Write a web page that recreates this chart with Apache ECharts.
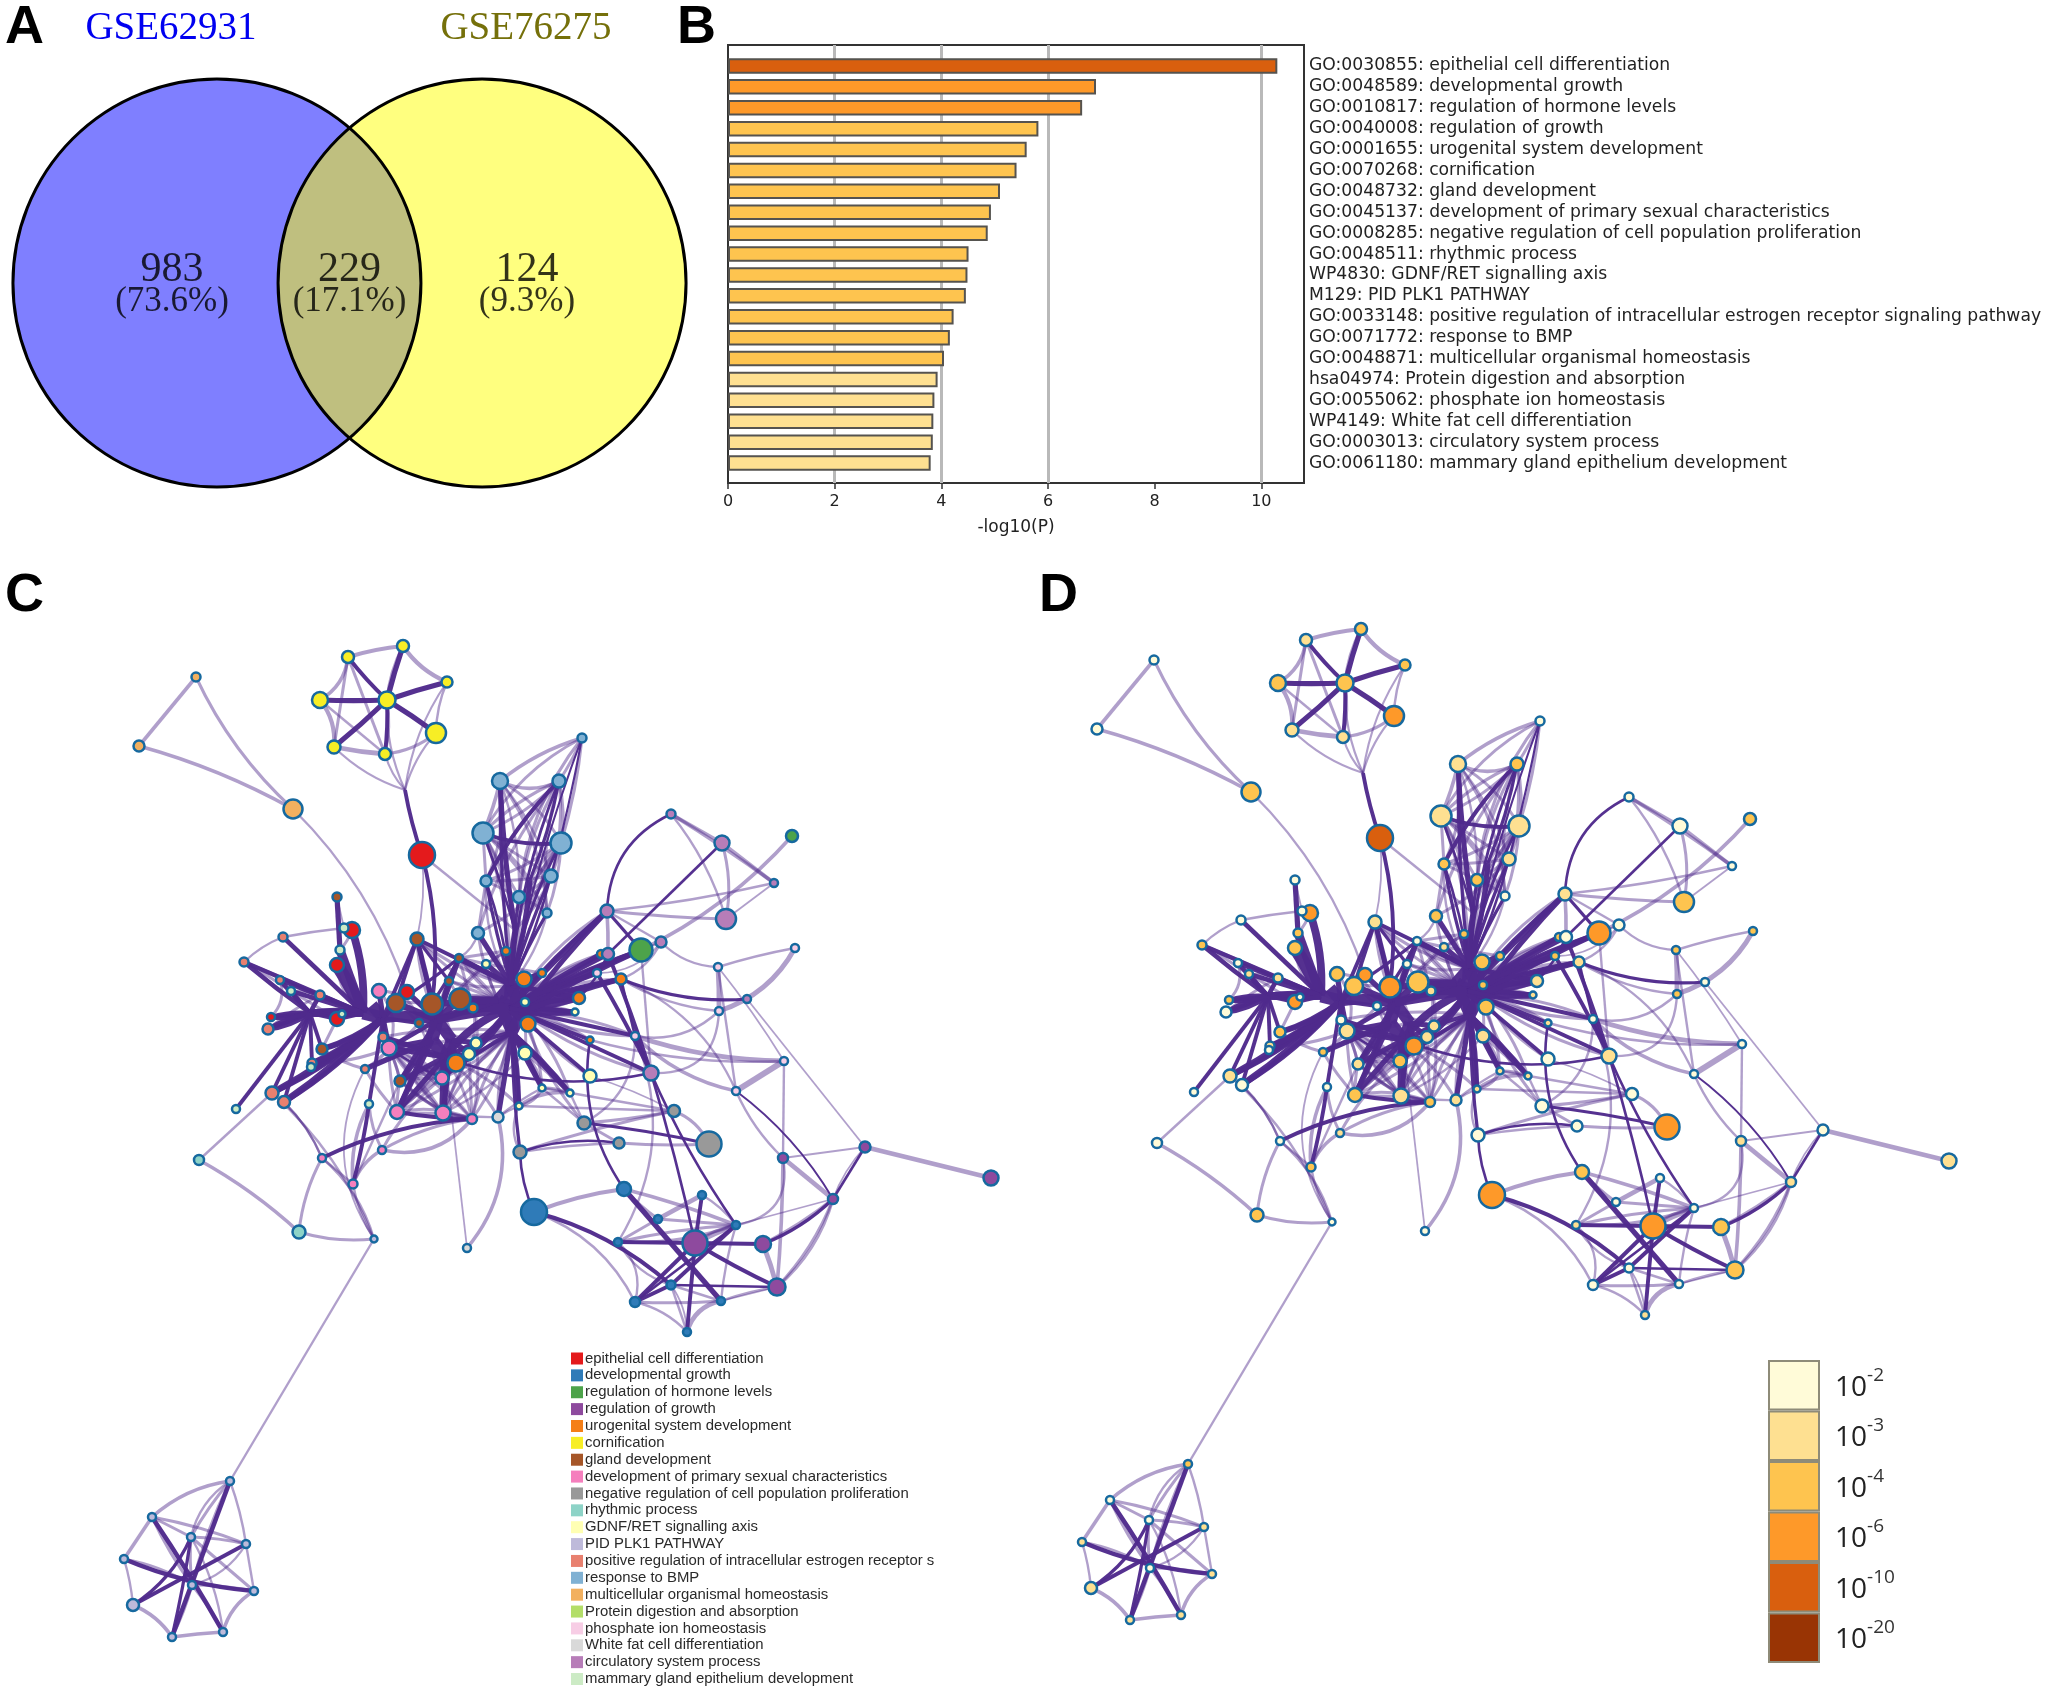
<!DOCTYPE html>
<html><head><meta charset="utf-8">
<style>html,body{margin:0;padding:0;background:#fff}#c{width:2050px;height:1693px}</style>
<script src="https://cdn.jsdelivr.net/npm/echarts@6/dist/echarts.min.js"></script>
</head><body><div id="c"></div>
<script>
// ---------- Panel A ----------
const vennSets = ['GSE62931', 'GSE76275'];
const vennCounts = ['983', '229', '124'];
const vennShares = ['(73.6%)', '(17.1%)', '(9.3%)'];
// ---------- Panel B ----------
const enrichTerms = ['GO:0030855: epithelial cell differentiation','GO:0048589: developmental growth','GO:0010817: regulation of hormone levels','GO:0040008: regulation of growth','GO:0001655: urogenital system development','GO:0070268: cornification','GO:0048732: gland development','GO:0045137: development of primary sexual characteristics','GO:0008285: negative regulation of cell population proliferation','GO:0048511: rhythmic process','WP4830: GDNF/RET signalling axis','M129: PID PLK1 PATHWAY','GO:0033148: positive regulation of intracellular estrogen receptor signaling pathway','GO:0071772: response to BMP','GO:0048871: multicellular organismal homeostasis','hsa04974: Protein digestion and absorption','GO:0055062: phosphate ion homeostasis','WP4149: White fat cell differentiation','GO:0003013: circulatory system process','GO:0061180: mammary gland epithelium development'];
const enrichLogP = [10.3,6.9,6.64,5.82,5.6,5.41,5.1,4.93,4.87,4.51,4.49,4.46,4.23,4.16,4.05,3.93,3.87,3.85,3.84,3.8];
const xTicks = [0,2,4,6,8,10];
const gridTicks = [2,4,6,10];
// ---------- Legends ----------
const termNames = ['epithelial cell differentiation','developmental growth','regulation of hormone levels','regulation of growth','urogenital system development','cornification','gland development','development of primary sexual characteristics','negative regulation of cell population proliferation','rhythmic process','GDNF/RET signalling axis','PID PLK1 PATHWAY','positive regulation of intracellular estrogen receptor s','response to BMP','multicellular organismal homeostasis','Protein digestion and absorption','phosphate ion homeostasis','White fat cell differentiation','circulatory system process','mammary gland epithelium development'];
const termColors = ['#E41A1C','#2F7BB8','#4DA34A','#8E4A9E','#F57F17','#F7EE25','#A65628','#F57FBD','#999999','#8DD3C7','#FFFFB3','#BEBADA','#E8806F','#80B1D3','#F2B05F','#B3DE69','#F7CDE5','#D9D9D9','#B77DB8','#CCEBC5'];
const pLabels = ['-2','-3','-4','-6','-10','-20'];
const pColors = ['#FFFBD8','#FEE091','#FEC44F','#FE9929','#D95F0E','#993404'];
// ---------- Panels C and D: nodes [id, x, y, size, term, pBin] (layout units) ----------
const triangleNodes = [['t1',196,677,9,14,0],['t2',139,746,11,14,0],['t3',293,809,19,14,2]];
const yellowNodes = [['y1',348,657,12,5,1],['y2',403,646,12,5,2],['y3',447,682,11,5,2],['y4',320,700,16,5,2],['y5',387,700,17,5,2],['y6',436,733,20,5,3],['y7',334,747,13,5,1],['y8',385,754,12,5,1]];
const blueNodes = [['b1',582,738,9,13,0],['b2',500,781,16,13,1],['b3',559,781,13,13,2],['b4',483,833,21,13,1],['b5',561,843,21,13,1],['b6',551,876,13,13,1],['b7',486,881,11,13,2],['b8',519,897,12,13,2],['b9',547,913,9,13,0],['b10',478,933,12,13,2]];
const redNodes = [['r1',422,855,26,0,4],['r2',352,930,16,0,3],['r3',337,965,14,0,2],['r4',271,1017,8,0,2],['r5',337,1019,14,0,3],['r6',407,992,14,0,3]];
const salmonNodes = [['s1',283,937,9,12,0],['s2',244,962,9,12,2],['s3',280,980,8,12,0],['s4',320,995,9,12,1],['s5',268,1029,11,12,0],['s6',383,1037,9,12,0],['s7',312,1063,9,12,1],['s8',365,1069,8,12,2],['s9',272,1093,13,12,1],['s10',284,1102,12,12,0]];
const paleNodes = [['g1',344,928,9,19,0],['g2',340,950,9,19,2],['g3',291,991,8,19,1],['g4',342,1014,7,19,0],['g5',311,1067,8,19,0],['g6',236,1109,8,19,0],['g7',369,1104,8,19,0]];
const brownNodes = [['k1',337,897,9,6,0],['k2',417,939,13,6,1],['k3',459,958,8,6,0],['k4',449,981,8,6,0],['k5',396,1003,18,6,2],['k6',432,1004,21,6,3],['k7',460,999,21,6,2],['k8',419,1023,8,6,0],['k9',322,1049,11,6,2],['k10',400,1081,11,6,1]];
const pinkNodes = [['p1',379,991,14,7,2],['p2',389,1048,15,7,1],['p3',442,1078,13,7,2],['p4',397,1112,14,7,2],['p5',443,1113,15,7,1],['p6',472,1119,10,7,2],['p7',382,1150,8,7,1],['p8',322,1158,8,7,0],['p9',353,1184,9,7,2]];
const orangeNodes = [['o1',473,1008,9,4,1],['o2',456,1063,17,4,3],['o3',528,1024,15,4,2],['o4',524,979,15,4,2],['o5',542,973,8,4,2],['o6',506,951,8,4,2],['o7',579,998,12,4,1],['o8',601,954,8,4,2],['o9',621,979,11,4,1],['o10',590,1040,7,4,1]];
const gdnfNodes = [['v1',469,1054,12,10,1],['v2',476,1043,11,10,1],['v3',525,1053,13,10,1],['v4',525,1002,8,10,2],['v5',486,964,8,10,1],['v6',575,1012,7,10,1],['v7',519,1106,7,10,1],['v8',542,1088,7,10,1],['v9',570,1093,7,10,1],['v10',590,1076,13,10,0]];
const greyNodes = [['e1',520,1152,13,8,0],['e2',584,1123,13,8,0],['e3',619,1143,11,8,0],['e4',674,1111,12,8,0],['e5',709,1144,25,8,3]];
const lowerNodes = [['w1',498,1117,11,17,1],['w2',467,1248,8,17,0],['c1',199,1160,10,9,0],['c2',299,1232,13,9,2],['l0',374,1239,7,11,0]];
const growthNodes = [['d1',534,1212,26,1,3],['d2',624,1189,14,1,2],['d3',702,1195,8,1,0],['d4',658,1219,8,1,0],['d5',736,1225,8,1,0],['d6',618,1242,8,1,1],['d7',671,1285,9,1,0],['d8',635,1302,10,1,0],['d9',721,1301,8,1,0],['d10',687,1332,8,1,1]];
const regGrowthNodes = [['u1',695,1243,25,3,3],['u2',763,1244,16,3,2],['u3',777,1287,17,3,2],['u4',833,1199,10,3,1],['u5',783,1158,10,3,1],['u6',865,1147,11,3,0],['u7',991,1178,15,3,1]];
const mauveNodes = [['m1',671,814,9,18,0],['m2',722,843,15,18,0],['m3',774,883,8,18,0],['m4',726,919,20,18,2],['m5',607,911,13,18,1],['m6',661,942,11,18,0],['m7',608,954,12,18,0],['m8',747,999,8,18,0],['m9',651,1073,15,18,1]];
const hormoneNodes = [['n1',792,836,12,2,2],['n2',641,950,23,2,3]];
const phosphateNodes = [['f1',597,973,8,16,2],['f2',635,1036,8,16,0],['f3',795,948,8,16,2],['f4',718,967,8,16,2],['f5',719,1011,8,16,2],['f6',784,1061,8,16,0],['f7',736,1091,8,16,0]];
const plk1Nodes = [['a1',230,1481,8,11,2],['a2',152,1517,8,11,0],['a3',191,1537,8,11,0],['a4',246,1544,8,11,1],['a5',124,1559,8,11,1],['a6',192,1585,8,11,0],['a7',254,1591,8,11,1],['a8',133,1605,12,11,1],['a9',172,1637,8,11,1],['a10',223,1632,8,11,1]];
// Where bundled edges meet
const bundlePoints = [['j1',405,790],['L',310,1013],['M',363,1013],['N',383,1018],['P',437,1020],['Q',445,1057],['R',510,1008],['R2',511,985],['R3',512,1032],['B1',530,880],['B2',515,930],['T',498,1000],['U',522,1012],['V',432,1040],['W',452,1040],['X',372,1005]];
// ---------- Edges [from, width, curveness, 'to to to'] ----------
const darkEdges = [
 ['y5',4,.02,'y4 y3 y6 y7 y2'],['y5',3,.04,'y1 y8'],['j1',3,-.04,'r1'],['r1',3,.1,'k6'],
 ['k1',4,0,'g2'],['r2',6,.1,'M'],['g2',7,0,'M'],['r3',10,.04,'M'],['M',10,0,'N'],['X',9,0,'N'],['N',8,.1,'P'],['P',10,0,'V'],['V',10,0,'Q'],['P',9,0,'W'],['W',9,0,'Q'],['P',6,.12,'R'],['L',6,0,'M'],['L',5,.08,'M'],['L',4,-.08,'M'],
 ['L',3.5,.02,'s2 s3 g3 s5 r4 s4'],['M',3.5,0,'s1 s2 s3 s4 g3 r5'],['L',4,.12,'r4 s5'],['L',3,-.1,'r4 s5'],['L',3,0,'r5 k9 s9 s10 g6 s7'],['N',4,.08,'s9 s10 s7 k9 g5'],['N',5,.05,'s9 s10'],['N',4,.12,'s7 k9'],
 ['N',4,0,'s6 p2 p1 k5'],['N',3,0,'r6 k8'],['P',5,0,'k6 k7 k5'],['P',4,0,'k2 k4 r6 o1 k3'],['k2',3,0,'N k5 k6 R2'],['k3',2.5,.03,'k6 R2 k5'],['k2',2.5,0,'k4 P'],
 ['Q',6,0,'p5 p3 o2'],['Q',4,0,'v1 v2 p4 k10 s6 p2'],['P',3.5,0,'p4 p2 k10'],['R',6,-.15,'Q'],['P',6,0,'R'],['R',5,.1,'v1 v2'],['V',4,0,'p4 p2 k10 s8'],['W',4,0,'p5 o2 v1 v2'],
 ['R',10,0,'R2 R3 T U'],['T',9,0,'R2 R3'],['U',9,0,'R2 R3'],['R',6,0,'o4 o3 v4 k7 o1'],['T',5,0,'k7 o1 k6'],['U',5,0,'o3 o4 o7 v6'],['R2',4,0,'b10 o6 v5 k3 o5 o7'],['R3',4,0,'v3 v7 v8 v9 w1'],['R3',3,.05,'v7 v8 v9'],['R3',3,-.03,'v2 p3'],
 ['R',4,.02,'m5 n2 o8 o9 m7 f1 o7 v6'],['R',3,.05,'m5 n2 f1 o7 v6 o9'],['U',4,.03,'m5 n2 o9'],['R',3,0,'o10 v10 m9 f2'],['R2',2.5,.03,'b2 b6 b7 b8 b9'],['R2',1.6,.04,'b1'],['R2',2.2,.08,'b3 b5'],['R2',2,-.05,'b6 b7 B2'],
 ['b3',3,-.08,'b7'],['b4',3,-.12,'b5'],['b2',4,-.03,'B2'],['b3',2.5,.05,'B1'],['B1',4,.05,'R2'],['B2',4,-.05,'R2'],['b1',1.6,.02,'b6'],['b4',2,.02,'B2'],
 ['m1',2,-.3,'m5'],['m2',2,0,'m7'],['m5',2.5,0,'n2'],['o9',2.5,-.12,'m8'],['o9',2,0,'f2'],['f1',3,.02,'m9'],['m7',3,.02,'m9'],['f2',3,0,'m9'],['m9',2,.02,'u1'],['m9',2,-.05,'d5'],['o10',2,-.2,'d2'],
 ['e1',2.5,.03,'R3'],['e1',2,-.1,'d1'],['e2',2.5,.03,'e5'],['e3',2,-.12,'e1'],['d1',3,.12,'d7'],['d2',4,0,'d9'],['d3',3,0,'u1'],['d6',3,0,'u1'],['u1',3,0,'u2 d8 d10'],['d5',2,0,'d8'],['u3',3,.03,'u1'],['d7',3,0,'d8 d5'],['d7',2,0,'u3'],
 ['u6',2,0,'u4'],['u4',2.5,.1,'u2'],['f7',1.5,.1,'u4'],['g7',3,.03,'p9'],['g7',3,0,'N'],['p8',3,.1,'p6'],['p6',3,.04,'p4'],['p3',2.5,0,'o2'],['p3',2,.05,'p2'],['m7',2,.1,'o7'],['m9',2,.15,'Q'],
 ['a2',3.5,.02,'a10'],['a5',3.5,-.08,'a7'],['a1',3.5,0,'a9'],['a4',3,0,'a8'],['a3',2.5,.02,'a9'],['a8',2.5,-.15,'a3']
];
const paleEdges = [
 ['t1',3,0,'t2'],['t1',2.5,-.1,'t3'],['t2',3,.06,'t3'],['t3',2,.12,'r6'],['r1',2,0,'B2'],
 ['y1',3.5,.05,'y2'],['y2',3.5,-.15,'y3'],['y3',2,-.1,'y6'],['y6',2.5,.15,'y8'],['y8',4,.03,'y7'],['y7',3.5,-.2,'y4'],['y4',3,-.25,'y1'],['y1',2.5,0,'y8 y7'],['y4',2,0,'y8'],['y5',2.5,.1,'y8 y2'],['j1',1.8,.12,'y7 y8 y5 y3 y6'],
 ['b1',3,-.1,'b2'],['b1',2.5,.05,'b3 b5'],['b1',2.5,-.15,'b4 b8'],['b2',3,-.25,'b3'],['b2',3,.05,'b4'],['b2',2,.1,'b6 b8'],['b2',2.5,.15,'b7 b5 b9'],['b3',2.5,.1,'b5 b4 b6'],['b3',2.5,-.1,'b8 b9 b10 b4'],['b4',2.5,0,'b7 b8 b6'],['b4',2.5,.1,'B1 B2 R2'],['b5',3,.05,'b6 b8'],['b5',2.5,.08,'b9 b7'],['b5',2.5,-.1,'B1 B2 R2'],['b4',2,.1,'b9'],['b6',2.5,.04,'b7 b8'],['b6',2.5,.1,'b10 B2'],['b7',2.5,0,'b8 b10'],['b8',2.5,.08,'b9 R2'],['b9',2,.12,'R2'],['b7',2,-.15,'R2'],['b10',2,.2,'k3'],['r1',1.5,.08,'k2'],
 ['s1',2.2,.02,'g1'],['s1',2,-.1,'s2'],['s2',2.5,.02,'s4 g3'],['s3',2.5,.3,'r4'],['g3',2,.08,'s4'],['r5',2.5,0,'g3 k9'],['s5',2.5,.05,'s4'],['k1',1.5,0,'g1'],['r2',2.5,.1,'g2'],['r3',3,-.35,'N'],
 ['p1',2.5,.4,'k8'],['p1',2.5,.3,'p2'],['k8',2.5,.1,'p2'],['s8',2.5,.1,'k9'],['s7',2.5,-.1,'p2'],['p2',3,.1,'s8'],['p5',2.5,.03,'p2 s6 p4 p6 k10 v1 v2'],['p4',2.5,.06,'p2 s8 k10 p3 o2'],['p4',2.5,.15,'p6'],['p7',2.5,.1,'g7 p6 p3'],['p7',3,-.3,'p6'],['p9',3,.15,'g7'],['p9',3,.18,'p7'],['p8',2,0,'p9'],['p8',2,-.1,'s10'],['p8',2,.15,'l0'],['s10',2,.1,'p8'],
 ['Q',2.5,.1,'p4 p6 w1 v7 k10'],['R3',2.5,.1,'p5 p3 p6 o2 v1 v2 k10 p4'],['R3',2.5,-.1,'p5 p6 w1 s8'],['p2',2.5,.06,'p3 p5 o2 p6 k10'],['k10',2.5,.05,'o2 p3 v1'],['s6',2.5,.08,'k10 p3 p6 R3'],['k8',2,0,'p3 o2 v2'],['o1',2.5,.15,'v2 v1 k7'],['k7',2.5,.15,'o1 T'],['k5',2.5,.05,'k6 k8'],['k6',2.5,.2,'W T'],['k4',2.5,0,'k7 T k3'],['k3',2.5,0,'v5 o6 o1 T'],['P',2.5,.1,'k3 k2 o6 v5'],
 ['T',2.5,.08,'k2 k3 v5 b10'],['R2',2.5,.12,'k2 k3 k4'],['v5',2.5,0,'o6 o5'],['U',2.5,.1,'v3 v8 v9 o10 o7 f2'],['U',2.5,-.1,'o7 v6 m9 f2 v10 e2'],['R',2.5,.12,'m5 m7 o8 f1 o9 v6 o7'],['v3',2.5,.15,'R3 v8 v9'],['v4',2,0,'o3 o4'],
 ['v1',2.5,0,'p6 p3'],['v2',2.5,.1,'p6'],['k10',2.5,-.15,'p6'],['k10',2,0,'p5'],['v3',2,.1,'p5'],['w1',2,.05,'p5 v7 v8'],['v7',3,-.25,'v8'],['v7',3,.2,'v9'],['v8',2.5,.1,'v9'],['v3',2,0,'v8 v9'],['w1',3,.25,'w2'],['w2',1.5,0,'Q'],['e1',2,.25,'v7'],['v7',2,0,'e4'],['e1',2.5,.03,'e4'],['v8',2,0,'e2 e4'],['e2',2.5,-.03,'e4'],['e2',2.5,0,'e3'],['e1',2.2,.03,'e3'],['e3',2.5,-.03,'e5'],['e4',2.5,.2,'e5'],['v9',2,0,'e2'],['v10',1.5,.05,'e4'],
 ['m1',3,0,'m2'],['m1',3,.02,'m3'],['m1',2,.1,'m4'],['m2',3,0,'m3'],['m2',2.5,.12,'m4'],['m3',1.5,0,'m4'],['m3',2,.03,'m5'],['m4',2.5,.02,'m5'],['n1',3,.1,'n2'],['n2',2,0,'m6'],['m5',3,.02,'m7'],['m5',2,0,'m6'],['m6',2,.2,'o9'],['m6',2,-.2,'f4'],['n2',2,0,'m9'],['m6',1.5,.25,'f1'],
 ['f4',2,.03,'f3'],['f4',4,.02,'f5'],['f3',4,.2,'f5'],['f4',1.5,.03,'f6'],['f4',2,0,'f7'],['f7',5,0,'f6'],['f6',4,.08,'f2'],['f7',3,.15,'f2'],['f7',2,-.2,'o9'],['f5',2,.25,'f2'],['f5',2,.12,'o9'],['f5',2,.5,'m9'],['f6',2,.08,'o10'],['f2',2,.3,'e2'],['f2',2,.25,'d6'],['f6',2,0,'u5'],['f7',2,-.1,'u5'],['m8',1.5,0,'u6'],['u5',1.5,0,'u6'],['u6',4,0,'u7'],['u5',4,0,'u4'],['u5',3,.02,'u3'],['u5',2,.5,'d5'],['u4',1.5,0,'d5'],['u4',2.5,.15,'u3'],['u6',1.5,-.1,'u4'],
 ['d1',3.5,.06,'d2'],['d2',3,.03,'d5'],['d3',4,0,'d4'],['d4',2.5,.05,'d2'],['d4',2.5,0,'d6 d5'],['d6',2.5,-.1,'d5'],['u1',4,.02,'d5'],['u1',2.5,.12,'d5'],['d6',2.5,.04,'d5'],['d3',2,.1,'d5'],['d6',2,.3,'d8'],['d6',2,-.2,'d7'],['d1',2,.2,'d8'],['d8',2.5,-.03,'d9'],['d8',2,.15,'d10'],['d10',4,.3,'d9'],['d10',2,0,'d7'],['d7',2,0,'d9'],['u2',4,.03,'u3'],['u3',1.5,0,'d9'],['u3',2,-.05,'d9'],['d9',2,.05,'d5'],['u4',2.5,.05,'u2'],['d10',1.5,-.15,'d7'],['u3',2.5,-.1,'u4'],
 ['c1',3,.06,'c2'],['c1',2,0,'s9'],['c2',2.5,-.1,'l0'],['c2',2.5,.1,'p8'],['l0',2,-.12,'s9'],['l0',2,.1,'p9'],['l0',2,0,'a1'],['k10',2,0,'p9'],['l0',1.5,.3,'s8'],
 ['a1',3,-.15,'a2'],['a2',3,0,'a5'],['a5',2,.05,'a8'],['a8',3,.15,'a9'],['a9',3,.02,'a10'],['a10',3,.2,'a7'],['a7',2,0,'a4'],['a4',2,-.05,'a1'],['a2',2.5,.05,'a4'],['a3',2.5,.05,'a1 a4'],['a3',2.5,0,'a7 a2'],['a6',2.5,.05,'a2 a10 a9 a7 a3 a1'],['a5',2,.1,'a6'],['a4',2,.2,'a6'],['a1',2,-.2,'a3'],['a3',2,.1,'a10']
];
// ---------- Assemble ----------
const allNodes = [].concat(triangleNodes,yellowNodes,blueNodes,redNodes,salmonNodes,paleNodes,brownNodes,pinkNodes,orangeNodes,gdnfNodes,greyNodes,lowerNodes,growthNodes,regGrowthNodes,mauveNodes,hormoneNodes,phosphateNodes,plk1Nodes);
const EDGE = '#4F2A8C';
function buildLinks(){
  const out=[];
  const add=(rows,op,k)=>rows.forEach(([a,w,c,to])=>to.split(' ').forEach(b=>out.push({source:a,target:b,lineStyle:{width:w*k,curveness:c,opacity:op,color:EDGE}})));
  add(paleEdges,.45,1.2); add(darkEdges,.97,1.3);
  return out;
}
const hubData = bundlePoints.map(h=>({name:h[0],value:[h[1],h[2]],symbolSize:0,itemStyle:{color:'transparent',borderWidth:0}}));
const netC = hubData.concat(allNodes.map(n=>({name:n[0],value:[n[1],n[2]],symbolSize:n[3],category:n[4]})));
const netD = hubData.concat(allNodes.map(n=>({name:n[0],value:[n[1],n[2]],symbolSize:n[3],itemStyle:{color:pColors[n[5]]}})));
const nodeStyle = {borderColor:'#16699F',borderWidth:2.5,opacity:1};
const barBin = v=> v>=10?4 : v>=6?3 : v>=4?2 : 1;
const letters = [['A',5,1],['B',677,1],['C',5,569],['D',1039,569]];

const chart = echarts.init(document.getElementById('c'),null,{renderer:'canvas',width:2050,height:1693});
chart.setOption({
 animation:false,backgroundColor:'#fff',
 title:[...letters.map(l=>({text:l[0],left:l[1],top:l[2],padding:0,textStyle:{fontFamily:'Liberation Sans',fontWeight:'bold',fontSize:54,color:'#000'}})),
   {text:vennSets[0],left:171,top:9,padding:0,textAlign:'center',textStyle:{fontFamily:'Liberation Serif',fontWeight:'normal',fontSize:39,color:'#0000F0'}},
   {text:vennSets[1],left:526,top:9,padding:0,textAlign:'center',textStyle:{fontFamily:'Liberation Serif',fontWeight:'normal',fontSize:39,color:'#75700A'}}],
 grid:[
  {left:13,top:79,width:673,height:408},
  {left:728,top:45,width:576,height:438,show:true,borderColor:'#333',borderWidth:2,backgroundColor:'transparent'},
  {left:728,top:55.5,width:576,height:418},
  {left:0,top:0,width:2050,height:1693},
  {left:958,top:0,width:1092,height:1693},
  {left:1768,top:1360,width:52,height:303}
 ],
 xAxis:[
  {gridIndex:0,type:'value',min:-1.65,max:1.65,show:false},
  {gridIndex:1,type:'value',min:0,max:10.8,interval:2,name:'-log10(P)',nameLocation:'middle',nameGap:36,nameTextStyle:{fontFamily:'DejaVu Sans',fontSize:17,color:'#222'},
   axisLine:{show:false},splitLine:{show:false},axisTick:{show:true,length:6,lineStyle:{color:'#333',width:1.5},customValues:xTicks},axisLabel:{customValues:xTicks,margin:11,fontFamily:'DejaVu Sans',fontSize:16,color:'#222'}},
  {gridIndex:2,type:'value',min:0,max:10.8,show:false},
  {gridIndex:3,type:'value',min:0,max:2050,show:false},
  {gridIndex:4,type:'value',min:0,max:1092,show:false},
  {gridIndex:5,type:'value',min:0,max:1,show:false}
 ],
 yAxis:[
  {gridIndex:0,type:'value',min:-1,max:1,show:false},
  {gridIndex:1,type:'value',min:0,max:1,show:false},
  {gridIndex:2,type:'category',inverse:true,position:'right',data:enrichTerms,axisLine:{show:false},axisTick:{show:false},splitLine:{show:false},
   axisLabel:{margin:5,fontFamily:'DejaVu Sans',fontSize:17.2,color:'#222',interval:0,padding:[3,0,0,0]}},
  {gridIndex:3,type:'value',min:0,max:1693,inverse:true,show:false},
  {gridIndex:4,type:'value',min:17,max:1710,inverse:true,show:false},
  {gridIndex:5,type:'category',inverse:true,position:'right',data:pLabels,axisLine:{show:false},axisTick:{show:false},splitLine:{show:false},
   axisLabel:{margin:15,interval:0,align:'left',padding:[0,0,3,0],formatter:v=>'{b|10}{s|'+v+'}',rich:{b:{fontFamily:'Open Sans',fontSize:28,color:'#222',verticalAlign:'bottom',lineHeight:36},s:{fontFamily:'Open Sans',fontSize:19,color:'#333',verticalAlign:'top',lineHeight:36,padding:[0,0,8,0]}}}}
 ],
 legend:{data:termNames,orient:'vertical',left:571,top:1351,height:420,itemWidth:12,itemHeight:12,itemGap:1.87,padding:0,icon:'rect',selectedMode:false,
   itemStyle:{borderWidth:0},textStyle:{fontFamily:'Liberation Sans',fontSize:14.9,color:'#2a2a2a',padding:[0,0,0,-3]}},
 series:[
  {type:'scatter',xAxisIndex:0,yAxisIndex:0,silent:true,symbol:'circle',symbolSize:408,z:2,
   itemStyle:{color:'rgba(0,0,255,0.5)',borderWidth:0,opacity:1},data:[[-0.65,0]]},
  {type:'scatter',xAxisIndex:0,yAxisIndex:0,silent:true,symbol:'circle',symbolSize:408,z:2,
   itemStyle:{color:'rgba(255,255,0,0.5)',borderWidth:0,opacity:1},data:[[0.65,0]]},
  {type:'scatter',xAxisIndex:0,yAxisIndex:0,silent:true,symbol:'circle',symbolSize:408,z:3,
   itemStyle:{color:'transparent',borderColor:'#000',borderWidth:3,opacity:1},data:[[-0.65,0],[0.65,0]]},
  {type:'scatter',xAxisIndex:0,yAxisIndex:0,silent:true,symbolSize:0,z:4,
   data:[-0.87,0,0.87].map((x,i)=>({value:[x,0.065],label:{show:true,position:'inside',formatter:vennCounts[i],fontFamily:'Liberation Serif',fontSize:42,color:'#000'}}))},
  {type:'scatter',xAxisIndex:0,yAxisIndex:0,silent:true,symbolSize:0,z:4,
   data:[-0.87,0,0.87].map((x,i)=>({value:[x,-0.09],label:{show:true,position:'inside',formatter:vennShares[i],fontFamily:'Liberation Serif',fontSize:35,color:'#000'}}))},
  {type:'scatter',xAxisIndex:1,yAxisIndex:1,silent:true,symbolSize:0,z:1,data:[[0,0]],
   markLine:{silent:true,symbol:'none',z:1,label:{show:false},lineStyle:{color:'#B9B9B9',width:3,type:'solid'},data:gridTicks.map(v=>({xAxis:v}))}},
  {type:'bar',xAxisIndex:2,yAxisIndex:2,silent:true,z:5,barWidth:15.5,
   data:enrichLogP.map(v=>({value:v,itemStyle:{color:pColors[barBin(v)],borderColor:'#55534f',borderWidth:2}}))},
  {type:'graph',name:'C',coordinateSystem:'cartesian2d',xAxisIndex:3,yAxisIndex:3,layout:'none',silent:true,z:4,
   categories:termNames.map((n,i)=>({name:n,itemStyle:{color:termColors[i]}})),itemStyle:nodeStyle,label:{show:false},data:netC,links:buildLinks()},
  {type:'graph',name:'D',coordinateSystem:'cartesian2d',xAxisIndex:4,yAxisIndex:4,layout:'none',silent:true,z:4,
   itemStyle:nodeStyle,label:{show:false},data:netD,links:buildLinks()},
  {type:'bar',xAxisIndex:5,yAxisIndex:5,silent:true,barWidth:'100%',z:3,
   data:pColors.map(c=>({value:1,itemStyle:{color:c,borderColor:'#8E8B78',borderWidth:2}}))}
 ]
});
</script></body></html>
